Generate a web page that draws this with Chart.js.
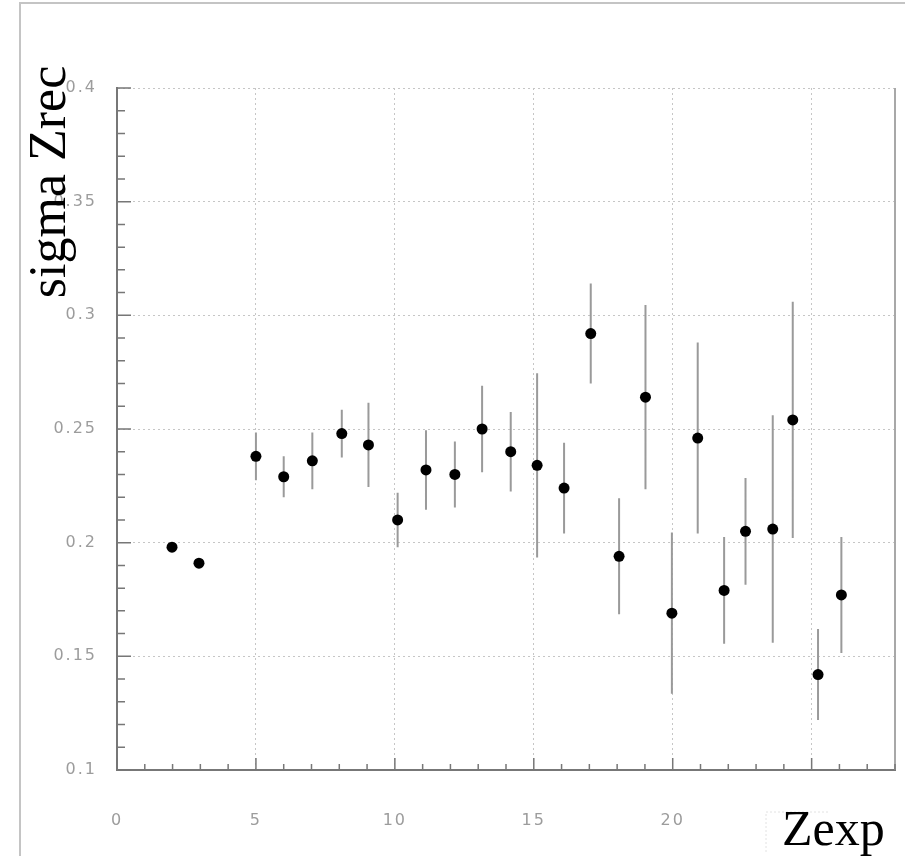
<!DOCTYPE html>
<html>
<head>
<meta charset="utf-8">
<title>sigma Zrec vs Zexp</title>
<script src="https://cdn.jsdelivr.net/npm/chart.js@4/dist/chart.umd.min.js"></script>
<style>
  html, body { margin: 0; padding: 0; background: #fff; }
  #wrap { width: 905px; height: 856px; }
</style>
</head>
<body>
<div id="wrap"><canvas id="chart-sigma" width="905" height="856"></canvas></div>
<script>
// Zexp of each fragment and the width of its reconstructed Z distribution
const zExp = [
  1.98, 2.95, 5.0, 6.0, 7.03, 8.09, 9.05, 10.1, 11.12, 12.16, 13.14, 14.17,
  15.12, 16.09, 17.05, 18.07, 19.02, 19.97, 20.9, 21.85, 22.62, 23.6, 24.32,
  25.23, 26.07,
];
const sigmaZrec = [
  0.198, 0.191, 0.238, 0.229, 0.236, 0.248, 0.243, 0.21, 0.232, 0.23, 0.25,
  0.24, 0.234, 0.224, 0.292, 0.194, 0.264, 0.169, 0.246, 0.179, 0.205, 0.206,
  0.254, 0.142, 0.177,
];
// statistical error on sigma (half length of the bar)
const sigmaErr = [
  0, 0, 0.0105, 0.009, 0.0125, 0.0105, 0.0185, 0.012, 0.0175, 0.0145, 0.019,
  0.0175, 0.0405, 0.02, 0.022, 0.0255, 0.0405, 0.0355, 0.042, 0.0235, 0.0235,
  0.05, 0.052, 0.02, 0.0255,
];
const xRange = [0, 28];
const yRange = [0.1, 0.4];
const xMajorStep = 5;
const yMajorStep = 0.05;

const tickFont = { family: '"DejaVu Sans", "Liberation Sans", sans-serif', size: 16 };
const tickColor = "#9c9c9c";

// frame, minor ticks, error bars and the two big axis titles
const decor = {
  id: "decor",
  beforeDraw(chart) {
    chart.ctx.letterSpacing = "2px";
  },
  beforeDatasetsDraw(chart) {
    const { ctx, chartArea: a, scales } = chart;
    const x = scales.x;
    const y = scales.y;
    ctx.save();
    ctx.strokeStyle = "#a8a8a8";
    ctx.lineWidth = 2;
    ctx.beginPath();
    ctx.moveTo(a.right, a.top);
    ctx.lineTo(a.right, a.bottom);
    ctx.stroke();

    ctx.strokeStyle = "#777";
    ctx.lineWidth = 1.5;
    ctx.beginPath();
    for (let v = xRange[0]; v <= xRange[1]; v++) {
      const px = x.getPixelForValue(v);
      const len = v % xMajorStep === 0 ? 12 : 6;
      ctx.moveTo(px, a.bottom);
      ctx.lineTo(px, a.bottom - len);
    }
    for (let i = 10; i <= 40; i++) {
      const py = y.getPixelForValue(i / 100);
      const len = i % 5 === 0 ? 14 : 8;
      ctx.moveTo(a.left, py);
      ctx.lineTo(a.left + len, py);
    }
    ctx.stroke();

    ctx.strokeStyle = "#9a9a9a";
    ctx.lineWidth = 2;
    ctx.beginPath();
    zExp.forEach((z, i) => {
      if (!sigmaErr[i]) return;
      const px = x.getPixelForValue(z);
      ctx.moveTo(px, y.getPixelForValue(sigmaZrec[i] + sigmaErr[i]));
      ctx.lineTo(px, y.getPixelForValue(sigmaZrec[i] - sigmaErr[i]));
    });
    ctx.stroke();
    ctx.restore();
  },
  afterDraw(chart) {
    const { ctx, width, height } = chart;
    ctx.save();
    ctx.letterSpacing = "0px";

    // page frame
    ctx.strokeStyle = "#c4c4c4";
    ctx.lineWidth = 2;
    ctx.beginPath();
    ctx.moveTo(20, height);
    ctx.lineTo(20, 3);
    ctx.lineTo(width, 3);
    ctx.stroke();

    // label box of the x title
    ctx.fillStyle = "#fff";
    ctx.fillRect(766, 812, width - 766, height - 812);
    ctx.strokeStyle = "#e2e2e2";
    ctx.lineWidth = 1;
    ctx.setLineDash([2, 2]);
    ctx.beginPath();
    ctx.moveTo(766, height - 4);
    ctx.lineTo(766, 812);
    ctx.lineTo(830, 812);
    ctx.stroke();
    ctx.setLineDash([]);

    ctx.fillStyle = "#000";
    ctx.font = '50px "Liberation Serif"';
    ctx.textAlign = "left";
    ctx.textBaseline = "alphabetic";
    ctx.fillText("Zexp", 782, 845);

    ctx.translate(65, 182);
    ctx.rotate(-Math.PI / 2);
    ctx.font = '52px "Liberation Serif"';
    ctx.textAlign = "center";
    ctx.fillText("sigma Zrec", 0, 0);
    ctx.restore();
  },
};

new Chart(document.getElementById("chart-sigma"), {
  type: "scatter",
  data: {
    datasets: [
      {
        data: zExp.map((z, i) => ({ x: z, y: sigmaZrec[i] })),
        backgroundColor: "#000",
        borderColor: "#000",
        borderWidth: 0,
        pointRadius: 5.5,
        pointHoverRadius: 5.5,
      },
    ],
  },
  options: {
    responsive: false,
    animation: false,
    devicePixelRatio: 1,
    events: [],
    layout: { padding: { left: 20, top: 88, right: 10, bottom: 0 } },
    scales: {
      x: {
        type: "linear",
        min: xRange[0],
        max: xRange[1],
        afterFit: (s) => { s.height = 86; },
        ticks: {
          stepSize: xMajorStep,
          includeBounds: false,
          maxRotation: 0,
          padding: 41,
          font: tickFont,
          color: tickColor,
        },
        grid: { color: "#c6c6c6", lineWidth: 1, drawTicks: false },
        border: { display: true, color: "#777", width: 2, dash: [2, 3] },
      },
      y: {
        type: "linear",
        min: yRange[0],
        max: yRange[1],
        afterFit: (s) => { s.width = 97; },
        ticks: {
          stepSize: yMajorStep,
          padding: 20,
          font: tickFont,
          color: tickColor,
          callback: (v) => String(+v.toFixed(2)),
        },
        grid: { color: "#c6c6c6", lineWidth: 1, drawTicks: false },
        border: { display: true, color: "#777", width: 2, dash: [2, 3] },
      },
    },
    plugins: { legend: { display: false }, tooltip: { enabled: false } },
  },
  plugins: [decor],
});
</script>
</body>
</html>
